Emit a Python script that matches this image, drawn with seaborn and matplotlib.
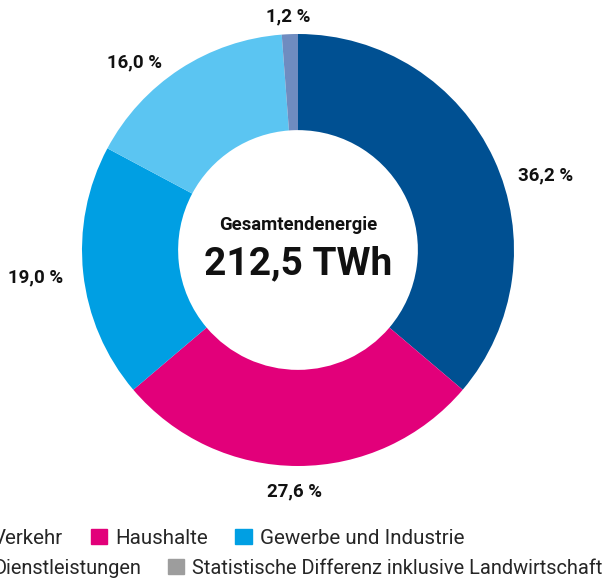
import numpy as np
import matplotlib.pyplot as plt
import seaborn as sns
from matplotlib.patches import Patch

sektoren = ["Verkehr", "Haushalte", "Gewerbe und Industrie", "Dienstleistungen",
            "Statistische Differenz inklusive Landwirtschaft"]
anteile = [36.2, 27.6, 19.0, 16.0, 1.2]
farben = ["#005092", "#e2007a", "#009fe3", "#5bc5f2", "#6f8cc0"]
legende_farben = ["#005092", "#e2007a", "#009fe3", "#5bc5f2", "#9d9d9d"]
titel = "Gesamtendenergie"
gesamt = "212,5 TWh"

# Lage der Prozentangaben (in Radien vom Mittelpunkt)
label_pos = [(1.148, 0.347), (-0.014, -1.12), (-1.213, -0.125),
             (-0.755, 0.87), (-0.046, 1.083)]

sns.set_theme(style="white")
plt.rcParams['font.family'] = ['Roboto', 'DejaVu Sans']

W, H = 615, 579
fig = plt.figure(figsize=(W / 100, H / 100), dpi=100)
cx, cy, r = 298, 250, 216
ax = fig.add_axes([(cx - r) / W, (H - cy - r) / H, 2 * r / W, 2 * r / H])

wedges, _ = ax.pie(anteile, colors=farben, startangle=90, counterclock=False,
                   radius=1, wedgeprops=dict(width=0.445, linewidth=0))
ax.set_xlim(-1, 1)
ax.set_ylim(-1, 1)
ax.set_aspect("equal")
ax.axis("off")

for (x, y), a in zip(label_pos, anteile):
    ax.text(x, y, f"{a:.1f} %".replace(".", ","), ha="center", va="center",
            fontsize=13.5, fontweight="bold", color="#111111")

ax.text(0, 0.115, titel, ha="center", va="center", fontsize=13.3,
        fontweight="bold", color="#111111")
ax.text(0, -0.065, gesamt, ha="center", va="center", fontsize=28,
        fontweight="bold", color="#111111")

handles = [Patch(color=c, label=s) for s, c in zip(sektoren, legende_farben)]
kw = dict(frameon=False, handlelength=0.78, handleheight=0.78, handletextpad=0.39,
          columnspacing=1.35, borderpad=0, borderaxespad=0, loc="center left")
fig.legend(handles=handles[:3], ncol=3, fontsize=14.8,
           bbox_to_anchor=(-31 / W, 1 - 538 / H), **kw)
fig.legend(handles=handles[3:], ncol=2, fontsize=14.4,
           bbox_to_anchor=(-30 / W, 1 - 568 / H), **kw)

fig.savefig("out.png", dpi=100)
